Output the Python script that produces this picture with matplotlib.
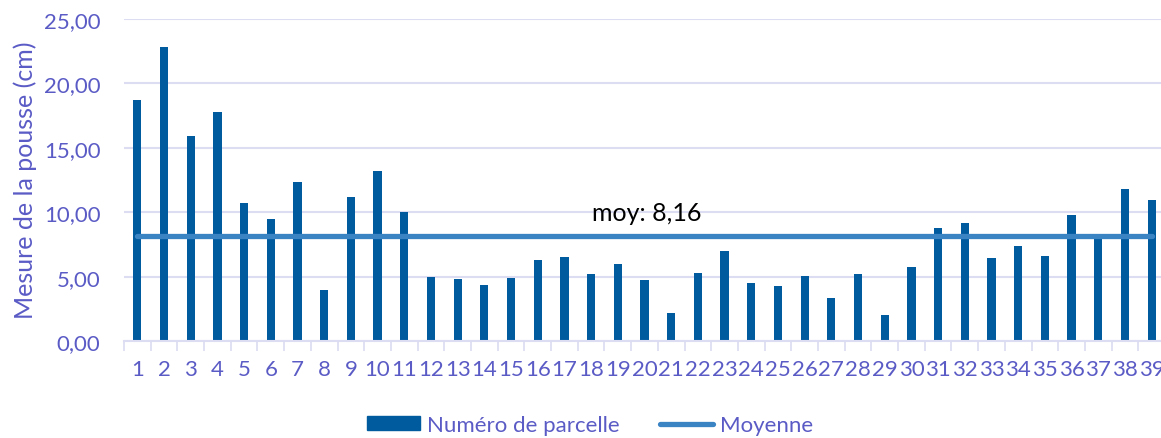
import matplotlib.pyplot as plt
import numpy as np
from matplotlib.lines import Line2D
from matplotlib.patches import Patch

# hauteur de pousse par parcelle (cm)
parcelles = list(range(1, 40))
mesures = [18.71, 22.85, 15.89, 17.75, 10.74, 9.45, 12.32, 3.98, 11.20, 13.17,
           9.99, 4.99, 4.81, 4.35, 4.87, 6.29, 6.50, 5.20, 5.98, 4.76,
           2.17, 5.28, 6.96, 4.50, 4.27, 5.07, 3.31, 5.23, 1.99, 5.72,
           8.77, 9.14, 6.47, 7.40, 6.57, 9.76, 8.00, 11.78, 10.97]
moyenne = 8.16
yticks = [0, 5, 10, 15, 20, 25]

bar_col = "#005A9E"
line_col = "#3B84C4"
txt_col = "#5B5BC6"
grid_col = "#DCDCF2"

plt.rcParams['font.family'] = ['Lato', 'DejaVu Sans']

fig = plt.figure(figsize=(11.61, 4.39), dpi=100)
ax = fig.add_axes([124 / 1161, 1 - 342 / 439, 1041 / 1161, 322 / 439])

x = np.arange(len(parcelles))
ax.bar(x, mesures, width=0.31, color=bar_col, zorder=2)
ax.plot([x[0], x[-1]], [moyenne, moyenne], color=line_col, lw=3.8,
        solid_capstyle='round', zorder=3)
ax.text(19.1, 10.0, "moy: " + f"{moyenne:.2f}".replace(".", ","),
        ha='center', va='center', fontsize=18, color='black')

ax.set_xlim(-0.5, len(parcelles) - 0.5)
ax.set_ylim(0, 25)
ax.set_yticks(yticks)
ax.set_yticklabels([f"{v:.2f}".replace(".", ",") for v in yticks])
ax.set_xticks(x)
ax.set_xticklabels([str(p) for p in parcelles])
ax.set_xticks(np.arange(-0.5, len(parcelles), 1), minor=True)

ax.tick_params(axis='y', length=0, pad=17, labelsize=16, labelcolor=txt_col)
ax.tick_params(axis='x', which='major', length=0, pad=13, labelsize=16, labelcolor=txt_col)
ax.tick_params(axis='x', which='minor', length=7, width=1.2, color=grid_col)

ax.grid(axis='y', color=grid_col, lw=1.5, zorder=0)
for s in ['left', 'right', 'top']:
    ax.spines[s].set_visible(False)
ax.spines['bottom'].set_color(grid_col)
ax.spines['bottom'].set_linewidth(1.5)
ax.set_axisbelow(True)

fig.text(25 / 1161, 1 - 180 / 439, "Mesure de la pousse (cm)", rotation=90,
         ha='center', va='center', fontsize=18, color=txt_col)

handles = [Patch(color=bar_col), Line2D([0], [0], color=line_col, lw=3.8, solid_capstyle='round')]
fig.legend(handles, ["Numéro de parcelle", "Moyenne"], loc='center',
           bbox_to_anchor=(590 / 1161, 1 - 426 / 439), ncol=2, frameon=False,
           fontsize=16, labelcolor=txt_col, handlelength=2.4, handletextpad=0.3,
           columnspacing=1.8, handleheight=0.6)

fig.savefig("out.png", dpi=100)
